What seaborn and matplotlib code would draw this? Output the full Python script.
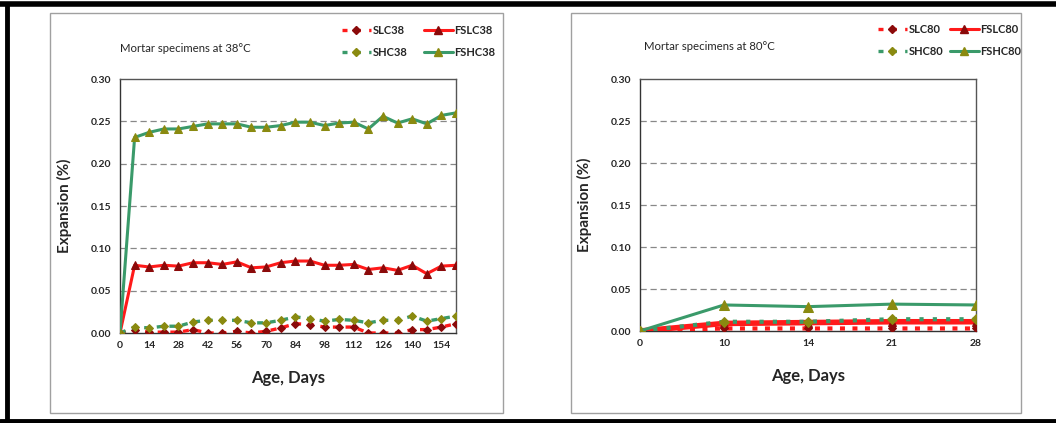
import numpy as np
import pandas as pd
import matplotlib
matplotlib.use("Agg")
import matplotlib.pyplot as plt
from matplotlib.patches import Rectangle
from matplotlib.lines import Line2D
import seaborn as sns

sns.set_theme(style="white")
plt.rcParams['font.family'] = ['Lato', 'DejaVu Sans']

# ---------------- data ----------------
days38 = [0, 7, 14, 21, 28, 35, 42, 49, 56, 63, 70, 77, 84, 91, 98, 105, 112,
          119, 126, 133, 140, 147, 154, 161]
slc38 = [0.000, 0.003, 0.001, 0.001, 0.001, 0.004, 0.000, 0.000, 0.002, 0.000,
         0.002, 0.006, 0.011, 0.010, 0.007, 0.007, 0.007, 0.000, 0.000, 0.000,
         0.004, 0.004, 0.007, 0.011]
shc38 = [0.000, 0.007, 0.006, 0.008, 0.008, 0.013, 0.015, 0.015, 0.015, 0.012,
         0.012, 0.015, 0.019, 0.017, 0.014, 0.016, 0.015, 0.012, 0.015, 0.015,
         0.020, 0.014, 0.017, 0.020]
fslc38 = [0.000, 0.080, 0.078, 0.080, 0.079, 0.083, 0.083, 0.081, 0.084, 0.077,
          0.078, 0.083, 0.085, 0.085, 0.080, 0.080, 0.081, 0.075, 0.077, 0.074,
          0.080, 0.070, 0.079, 0.080]
fshc38 = [0.000, 0.231, 0.237, 0.241, 0.241, 0.244, 0.247, 0.247, 0.247, 0.243,
          0.243, 0.245, 0.249, 0.249, 0.245, 0.248, 0.249, 0.241, 0.256, 0.248,
          0.253, 0.247, 0.257, 0.260]
ticks38 = [0, 14, 28, 42, 56, 70, 84, 98, 112, 126, 140, 154]

days80 = ["0", "10", "14", "21", "28"]
slc80 = [0.000, 0.003, 0.003, 0.003, 0.003]
shc80 = [0.000, 0.011, 0.011, 0.014, 0.014]
fslc80 = [0.000, 0.009, 0.010, 0.011, 0.011]
fshc80 = [0.000, 0.031, 0.029, 0.032, 0.031]

yticks = [0.00, 0.05, 0.10, 0.15, 0.20, 0.25, 0.30]

# ---------------- styles ----------------
RED = "#ff1a1a"
DRED = "#8b0a0a"
GREEN = "#3a9a6a"
OLIVE = "#8a8a10"

W, H = 1056, 423
fig = plt.figure(figsize=(W / 100, H / 100), dpi=100)

def fx(px):
    return px / W

def fy(py):
    return 1 - py / H

# outer frame lines and panel boxes
fig.add_artist(Line2D([0, 1], [fy(4.5), fy(4.5)], color="black", lw=4))
fig.add_artist(Line2D([0, 1], [fy(421), fy(421)], color="black", lw=3.5))
fig.add_artist(Line2D([fx(6.5), fx(6.5)], [fy(4), fy(421)], color="black", lw=3.5))
for x0, x1 in [(50, 503), (571, 1021)]:
    fig.add_artist(Rectangle((fx(x0), fy(413)), fx(x1 - x0), (413 - 13) / H,
                             fill=False, edgecolor="#a0a0a0", lw=1.0))

tick_font = dict(fontsize=7.5, fontweight="bold")


def style_axes(ax):
    ax.set_ylim(0, 0.30)
    ax.set_yticks(yticks)
    ax.set_yticklabels([f"{v:.2f}" for v in yticks], **tick_font)
    for v in yticks[1:-1]:
        ax.axhline(v, color="#888888", lw=0.9, ls=(0, (5, 3)), zorder=0)
    for s in ["left", "bottom"]:
        ax.spines[s].set_color("#333333")
        ax.spines[s].set_linewidth(1.0)
    for s in ["top", "right"]:
        ax.spines[s].set_color("#555555")
        ax.spines[s].set_linewidth(1.0)
    ax.tick_params(axis="both", length=0, pad=6)
    ax.set_ylabel("Expansion (%)", fontsize=11, fontweight="bold", labelpad=14)
    ax.set_xlabel("Age, Days", fontsize=12, fontweight="bold", labelpad=14)
    ax.grid(False)


# ---------------- left panel ----------------
ax1 = fig.add_axes([fx(120), fy(333), fx(456 - 120), (333 - 79) / H])
sns.lineplot(x=days38, y=slc38, ax=ax1, color=RED, lw=2.4,
             linestyle=(0, (1.8, 2.0)), marker="D", markersize=4.5,
             markerfacecolor=DRED, markeredgecolor=DRED, zorder=3)
sns.lineplot(x=days38, y=shc38, ax=ax1, color=GREEN, lw=2.4,
             linestyle=(0, (1.8, 2.0)), marker="D", markersize=4.5,
             markerfacecolor=OLIVE, markeredgecolor=OLIVE, zorder=3)
sns.lineplot(x=days38, y=fslc38, ax=ax1, color=RED, lw=2.2, marker="^",
             markersize=6, markerfacecolor=DRED, markeredgecolor=DRED, zorder=4)
sns.lineplot(x=days38, y=fshc38, ax=ax1, color=GREEN, lw=2.2, marker="^",
             markersize=6, markerfacecolor=OLIVE, markeredgecolor=OLIVE, zorder=4)
ax1.set_xlim(0, 161)
ax1.set_xticks(ticks38)
ax1.set_xticklabels([str(t) for t in ticks38], **tick_font)
style_axes(ax1)
fig.text(fx(120), fy(48), "Mortar specimens at 38\u00b0C", fontsize=8.2,
         va="center", ha="left")

# ---------------- right panel ----------------
ax2 = fig.add_axes([fx(640), fy(331), fx(976 - 640), (331 - 79) / H])
sns.lineplot(x=days80, y=fslc80, ax=ax2, color=RED, lw=4.0, marker="^",
             markersize=6, markerfacecolor=DRED, markeredgecolor=DRED, zorder=3,
             sort=False)
sns.lineplot(x=days80, y=slc80, ax=ax2, color=RED, lw=3.0,
             linestyle=(0, (1.2, 1.8)), marker="D", markersize=4.5,
             markerfacecolor=DRED, markeredgecolor=DRED, zorder=4, sort=False)
sns.lineplot(x=days80, y=shc80, ax=ax2, color=GREEN, lw=3.0,
             linestyle=(0, (1.0, 2.2)), marker="D", markersize=5,
             markerfacecolor=OLIVE, markeredgecolor=OLIVE, zorder=4, sort=False)
sns.lineplot(x=days80, y=fshc80, ax=ax2, color=GREEN, lw=2.2, marker="^",
             markersize=6.5, markerfacecolor=OLIVE, markeredgecolor=OLIVE,
             zorder=5, sort=False)
ax2.set_xlim(0, len(days80) - 1)
ax2.set_xticks(range(len(days80)))
ax2.set_xticklabels(days80, **tick_font)
style_axes(ax2)
fig.text(fx(644), fy(47), "Mortar specimens at 80\u00b0C", fontsize=8.2,
         va="center", ha="left")


# ---------------- legends ----------------
def legend_handles(suffix):
    h = [
        Line2D([], [], color=RED, lw=2.4, ls=(0, (1.5, 2.5)), marker="D",
               markersize=4.5, markerfacecolor=DRED, markeredgecolor=DRED),
        Line2D([], [], color=GREEN, lw=2.4, ls=(0, (1.5, 2.5)), marker="D",
               markersize=4.5, markerfacecolor=OLIVE, markeredgecolor=OLIVE),
        Line2D([], [], color=RED, lw=2.2, marker="^", markersize=6,
               markerfacecolor=DRED, markeredgecolor=DRED),
        Line2D([], [], color=GREEN, lw=2.2, marker="^", markersize=6,
               markerfacecolor=OLIVE, markeredgecolor=OLIVE),
    ]
    labels = ["SLC" + suffix, "SHC" + suffix, "FSLC" + suffix, "FSHC" + suffix]
    return h, labels


for anchor, suffix, cs in [((fx(332), fy(15)), "38", 1.5),
                           ((fx(868), fy(14)), "80", 0.6)]:
    h, l = legend_handles(suffix)
    fig.legend(h, l, loc="upper left", bbox_to_anchor=anchor, ncol=2,
               frameon=False, handlelength=2.6, handletextpad=0.15,
               columnspacing=cs, labelspacing=1.0,
               prop=dict(family=["Lato", "DejaVu Sans"], size=8, weight="bold"))

fig.savefig("out.png", dpi=100, facecolor="white")
